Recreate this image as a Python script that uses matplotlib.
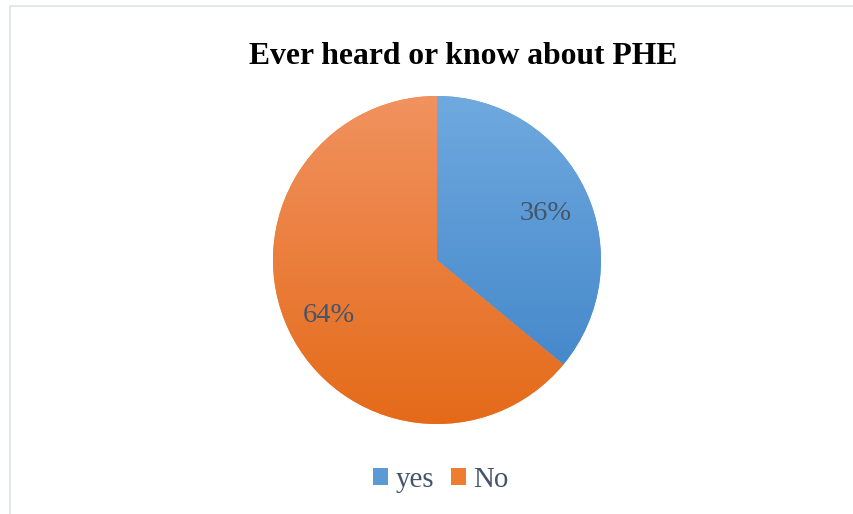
import numpy as np
import matplotlib
matplotlib.use("Agg")
import matplotlib.pyplot as plt
from matplotlib.colors import LinearSegmentedColormap
from matplotlib.patches import Rectangle

categories = ["yes", "No"]
values = [36, 64]
title = "Ever heard or know about PHE"
top_colors = ["#6fa9df", "#f19260"]
bottom_colors = ["#4689cb", "#e46a18"]
legend_colors = ["#5b9bd5", "#ed7d31"]
text_color = "#44546a"

W, H = 854, 514
fig = plt.figure(figsize=(W / 100, H / 100), dpi=100)

# chart border
fig.patches.append(Rectangle((10.5 / W, -0.01), 1.0, (H - 5.5) / H + 0.01,
                             transform=fig.transFigure, fill=False,
                             edgecolor="#dde2ea", linewidth=1.2))

cx, cy, r = 437, 260, 164
ax = fig.add_axes([(cx - r) / W, (H - cy - r) / H, 2 * r / W, 2 * r / H])
wedges, texts = ax.pie(values, startangle=90, counterclock=False, radius=1,
                       colors=legend_colors, wedgeprops=dict(linewidth=0))
ax.set_aspect("auto")
ax.axis("off")

for w, c0, c1 in zip(wedges, top_colors, bottom_colors):
    cmap = LinearSegmentedColormap.from_list("g", [c1, c0])
    grad = np.linspace(0, 1, 256).reshape(-1, 1)
    verts = w.get_path().vertices
    y0, y1 = verts[:, 1].min(), verts[:, 1].max()
    im = ax.imshow(grad, cmap=cmap, extent=[-1, 1, y0, y1], origin="lower",
                   aspect="auto", zorder=2)
    im.set_clip_path(w)
ax.set_xlim(-1, 1)
ax.set_ylim(-1, 1)

# percentage labels
total = sum(values)
start = 90.0
label_r = 0.73
for v in values:
    frac = v / total
    mid = np.deg2rad(start - frac * 360 / 2)
    start -= frac * 360
    ax.text(label_r * np.cos(mid), label_r * np.sin(mid) - 0.03, f"{round(100 * frac)}%",
            ha="center", va="center", fontsize=20.5, color=text_color,
            family="Liberation Serif", zorder=5)

fig.text(463 / W, 1 - 57 / H, title, ha="center", va="center",
         fontsize=22.8, fontweight="bold", family="Liberation Serif", color="black")

handles = [Rectangle((0, 0), 1, 1, facecolor=c, edgecolor="none") for c in legend_colors]
leg = fig.legend(handles, categories, loc="center", bbox_to_anchor=(441 / W, 1 - 480 / H),
                 ncol=2, frameon=False, handlelength=0.52, handleheight=0.52,
                 handletextpad=0.25, columnspacing=0.6,
                 prop=dict(family="Liberation Serif", size=20.8))
for t in leg.get_texts():
    t.set_color(text_color)

fig.savefig("out.png", dpi=100)
